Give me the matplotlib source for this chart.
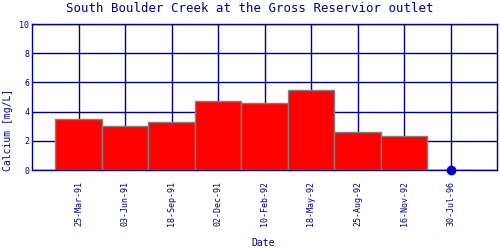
import numpy as np
import matplotlib
matplotlib.use("Agg")
import matplotlib.pyplot as plt

# Data
dates = ["25-Mar-91", "03-Jun-91", "18-Sep-91", "02-Dec-91", "10-Feb-92",
         "18-May-92", "25-Aug-92", "16-Nov-92", "30-Jul-96"]
calcium = [3.5, 3.0, 3.3, 4.7, 4.6, 5.5, 2.6, 2.3, 0.0]
nondetect = [False, False, False, False, False, False, False, False, True]

navy = "#000080"
plt.rcParams["font.family"] = ["DejaVu Sans Mono"]

fig = plt.figure(figsize=(5, 2.5), dpi=100)
ax = fig.add_axes([0.064, 0.32, 0.93, 0.584])

x = np.arange(len(dates))
ax.bar(x, calcium, width=1.0, color="#ff0000", edgecolor="#808080",
       linewidth=1.0, zorder=3)
nd = [i for i in x if nondetect[i]]
ax.plot(nd, [calcium[i] for i in nd], "o", color="#0000cc", markersize=6,
        zorder=5, clip_on=False)

ax.set_xlim(-1, len(dates))
ax.set_ylim(0, 10)
ax.set_yticks([0, 2, 4, 6, 8, 10])
ax.set_xticks(x)
ax.set_xticklabels(dates, rotation=90, fontsize=6, color=navy)
ax.tick_params(axis="y", labelsize=6, labelcolor=navy, length=0, pad=2)
ax.tick_params(axis="x", length=0, pad=8)
ax.grid(True, color=navy, linewidth=1.0)
ax.set_axisbelow(True)
for s in ax.spines.values():
    s.set_color(navy)
    s.set_linewidth(1.0)

fig.text(0.5, 0.968, "South Boulder Creek at the Gross Reservior outlet",
         ha="center", va="center", fontsize=8.9, color=navy)
fig.text(0.017, 0.316, "Calcium [mg/L]", rotation=90, ha="center",
         va="bottom", fontsize=7, color=navy)
fig.text(0.527, 0.028, "Date", ha="center", va="center", fontsize=7,
         color=navy)

fig.savefig("out.png", dpi=100)
